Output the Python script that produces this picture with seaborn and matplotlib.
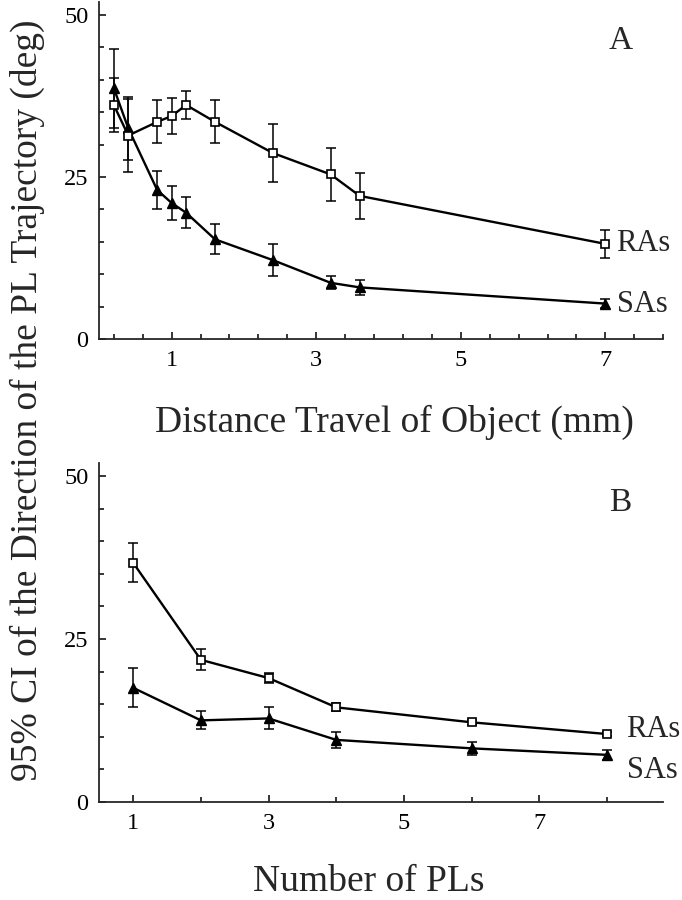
import numpy as np
import pandas as pd
import seaborn as sns
import matplotlib.pyplot as plt
from matplotlib.ticker import FixedLocator

# panel A: distance travelled (mm)
dist = [0.2, 0.4, 0.8, 1.0, 1.2, 1.6, 2.4, 3.2, 3.6, 7.0]
ra_dist = [36.1, 31.4, 33.5, 34.4, 36.1, 33.5, 28.7, 25.4, 22.1, 14.7]
ra_dist_err = [4.1, 5.6, 3.3, 2.8, 2.1, 3.3, 4.4, 4.1, 3.5, 2.1]
sa_dist = [38.7, 32.5, 23.0, 21.0, 19.5, 15.4, 12.2, 8.7, 8.0, 5.5]
sa_dist_err = [6.1, 4.8, 3.0, 2.6, 2.4, 2.3, 2.5, 1.0, 1.1, 0.7]

# panel B: number of PLs
npl = [1, 2, 3, 4, 6, 8]
ra_npl = [36.7, 21.8, 19.0, 14.5, 12.2, 10.4]
ra_npl_err = [3.0, 1.6, 0.8, 0.6, 0.4, 0.3]
sa_npl = [17.5, 12.5, 12.8, 9.5, 8.2, 7.2]
sa_npl_err = [3.0, 1.4, 1.7, 1.25, 1.0, 0.8]

sns.set_theme(style="ticks")
plt.rcParams['font.family'] = ['Liberation Serif', 'DejaVu Serif']
plt.rcParams['axes.linewidth'] = 1.3

fig = plt.figure(figsize=(6.82, 9), dpi=100)
axA = fig.add_axes([0.1457, 0.623, 0.8268, 0.375])
axB = fig.add_axes([0.1457, 0.1092, 0.8268, 0.376])


def draw(ax, x, ra, ra_err, sa, sa_err):
    df = pd.DataFrame({"x": x, "ra": ra, "sa": sa})
    ax.errorbar(x, ra, yerr=ra_err, fmt='none', ecolor='black',
                elinewidth=1.1, capsize=3.3, capthick=1.1, zorder=2)
    ax.errorbar(x, sa, yerr=sa_err, fmt='none', ecolor='black',
                elinewidth=1.1, capsize=3.3, capthick=1.1, zorder=2)
    sns.lineplot(data=df, x="x", y="sa", ax=ax, color='black', linewidth=1.7,
                 marker='^', markersize=7, markerfacecolor='black',
                 markeredgecolor='black', markeredgewidth=1.0, zorder=3)
    sns.lineplot(data=df, x="x", y="ra", ax=ax, color='black', linewidth=1.7,
                 marker='s', markersize=5.8, markerfacecolor='white',
                 markeredgecolor='black', markeredgewidth=1.2, zorder=4)
    ax.set_xlabel("")
    ax.set_ylabel("")
    ax.set_ylim(0, 52)
    ax.set_yticks([0, 25, 50])
    ax.yaxis.set_minor_locator(FixedLocator([5, 10, 15, 20, 30, 35, 40, 45]))
    ax.tick_params(which='both', direction='in', width=1.1, labelsize=17.5,
                   colors='black')
    ax.tick_params(which='major', length=5, pad=8)
    ax.tick_params(which='minor', length=3.5)
    sns.despine(ax=ax)


draw(axA, dist, ra_dist, ra_dist_err, sa_dist, sa_dist_err)
axA.set_xlim(0, 7.8)
axA.set_xticks([1, 3, 5, 7])
axA.xaxis.set_minor_locator(FixedLocator(
    [v for v in np.arange(0.2, 7.81, 0.4) if min(abs(v - t) for t in [1, 3, 5, 7]) > 0.01]))
axA.text(0.925, 0.884, "A", transform=axA.transAxes, fontsize=24,
         ha='center', va='center')
axA.annotate("RAs", (dist[-1], ra_dist[-1]), xytext=(8, 0),
             textcoords='offset points', fontsize=22, va='center', ha='left')
axA.annotate("SAs", (dist[-1], sa_dist[-1]), xytext=(8, -0.5),
             textcoords='offset points', fontsize=22, va='center', ha='left')

draw(axB, npl, ra_npl, ra_npl_err, sa_npl, sa_npl_err)
axB.set_xlim(0.5, 8.83)
axB.set_xticks([1, 3, 5, 7])
axB.xaxis.set_minor_locator(FixedLocator([2, 4, 6, 8]))
axB.text(0.923, 0.883, "B", transform=axB.transAxes, fontsize=24,
         ha='center', va='center')
axB.annotate("RAs", (npl[-1], ra_npl[-1]), xytext=(14, 3),
             textcoords='offset points', fontsize=22, va='center', ha='left')
axB.annotate("SAs", (npl[-1], sa_npl[-1]), xytext=(14, -11),
             textcoords='offset points', fontsize=22, va='center', ha='left')

fig.text(0.579, 1 - 432 / 900, "Distance Travel of Object (mm)", fontsize=27,
         ha='center', va='baseline')
fig.text(0.54, 1 - 891 / 900, "Number of PLs", fontsize=27,
         ha='center', va='baseline')
fig.text(0.04, 1 - 400 / 900,
         "95% CI of the Direction of the PL Trajectory (deg)", fontsize=27,
         rotation=90, ha='center', va='center')

fig.savefig("out.png", dpi=100)
